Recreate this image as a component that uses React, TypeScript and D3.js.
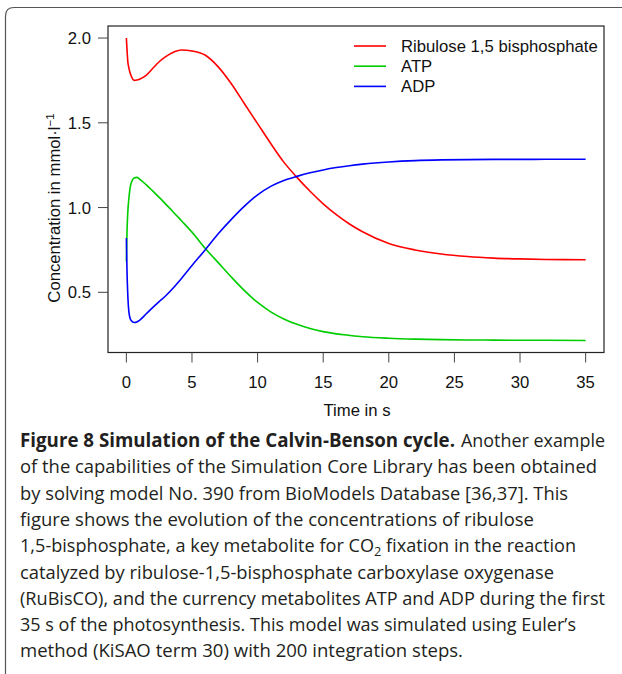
import React from "react";
import * as d3 from "d3";

// Time points (s)
const times = [0, 0.05, 0.1, 0.2, 0.35, 0.6, 0.8, 1, 1.5, 2, 2.5, 3, 3.5, 4.2, 5, 6, 7, 8, 9, 10, 11, 12, 13, 14, 15, 16, 17, 18, 20, 22, 24, 26, 28, 30, 32, 35];

// Ribulose 1,5 bisphosphate
const rubp = [2.0, 1.93, 1.87, 1.82, 1.78, 1.75, 1.752, 1.757, 1.78, 1.82, 1.86, 1.89, 1.913, 1.929, 1.924, 1.9, 1.83, 1.73, 1.612, 1.495, 1.378, 1.268, 1.178, 1.096, 1.022, 0.958, 0.903, 0.857, 0.788, 0.75, 0.726, 0.711, 0.702, 0.697, 0.694, 0.692];

// ATP
const atp = [0.682, 0.86, 0.96, 1.06, 1.14, 1.175, 1.178, 1.168, 1.135, 1.098, 1.06, 1.02, 0.98, 0.922, 0.855, 0.76, 0.675, 0.59, 0.51, 0.44, 0.385, 0.343, 0.311, 0.287, 0.268, 0.255, 0.246, 0.238, 0.229, 0.224, 0.221, 0.219, 0.218, 0.217, 0.217, 0.216];

// ADP
const adp = [0.821, 0.62, 0.5, 0.38, 0.335, 0.322, 0.325, 0.335, 0.372, 0.41, 0.445, 0.48, 0.52, 0.582, 0.658, 0.75, 0.845, 0.93, 1.008, 1.075, 1.125, 1.16, 1.184, 1.205, 1.222, 1.236, 1.247, 1.256, 1.269, 1.277, 1.281, 1.283, 1.284, 1.284, 1.285, 1.285];

const seriesNames = ["Ribulose 1,5 bisphosphate", "ATP", "ADP"];
const seriesColors = ["#ff0000", "#00cd00", "#0000ff"];
const seriesValues = [rubp, atp, adp];

const xTicks = [0, 5, 10, 15, 20, 25, 30, 35];
const yTicks = [0.5, 1.0, 1.5, 2.0];

const xLabel = "Time in s";
const yLabel = "Concentration in mmol·l";

const captionLines = [
  "of the capabilities of the Simulation Core Library has been obtained",
  "by solving model No. 390 from BioModels Database [36,37]. This",
  "figure shows the evolution of the concentrations of ribulose",
  "1,5-bisphosphate, a key metabolite for CO|2| fixation in the reaction",
  "catalyzed by ribulose-1,5-bisphosphate carboxylase oxygenase",
  "(RuBisCO), and the currency metabolites ATP and ADP during the first",
  "35 s of the photosynthesis. This model was simulated using Euler’s",
  "method (KiSAO term 30) with 200 integration steps.",
];
const captionEnds = [597, 568, 534, 576, 554, 605, 576, 463];
const captionTitle = "Figure 8 Simulation of the Calvin-Benson cycle.";
const captionTitleRest = "Another example";

export default function App() {
  const W = 622;
  const H = 674;
  const box = { left: 108, right: 604, top: 26, bottom: 352.5 };
  const x = d3.scaleLinear().domain([-1.4, 36.4]).range([box.left, box.right]);
  const y = d3.scaleLinear().domain([0.145, 2.071]).range([box.bottom, box.top]);
  const line = d3
    .line<number>()
    .x((_, i) => x(times[i]))
    .y((d) => y(d))
    .curve(d3.curveMonotoneX);

  const chartFont = "'Liberation Sans', Arial, Helvetica, sans-serif";
  const capFont = "'Open Sans', 'Noto Sans', sans-serif";
  const fs = 16.7;
  const capLeft = 20;
  const capTop = 447;
  const capStep = 26.3;

  return (
    <svg
      width={W}
      height={H}
      style={{ position: "absolute", left: 0, top: 0, background: "#fff" }}
    >
      <rect x={0} y={0} width={W} height={H} fill="#fff" />
      {/* outer frame */}
      <path
        d={`M5.5,${H + 5} L5.5,16 Q5.5,7.5 14,7.5 L${W + 5},7.5`}
        fill="none"
        stroke="#555"
        strokeWidth={1.2}
      />
      {/* plot box */}
      <rect
        x={box.left}
        y={box.top}
        width={box.right - box.left}
        height={box.bottom - box.top}
        fill="none"
        stroke="#222"
        strokeWidth={1.2}
      />
      {/* series */}
      {seriesValues.map((vals, k) => (
        <path key={k} d={line(vals) || ""} fill="none" stroke={seriesColors[k]} strokeWidth={1.6} />
      ))}
      {/* x axis */}
      {xTicks.map((t) => (
        <g key={t}>
          <line x1={x(t)} x2={x(t)} y1={box.bottom} y2={box.bottom + 10} stroke="#444" strokeWidth={1} />
          <text x={x(t)} y={388} textAnchor="middle" fontFamily={chartFont} fontSize={fs} fill="#111">
            {t}
          </text>
        </g>
      ))}
      <text x={357} y={416} textAnchor="middle" fontFamily={chartFont} fontSize={fs} fill="#111">
        {xLabel}
      </text>
      {/* y axis */}
      {yTicks.map((v) => (
        <g key={v}>
          <line x1={box.left - 10} x2={box.left} y1={y(v)} y2={y(v)} stroke="#444" strokeWidth={1} />
          <text x={91} y={y(v) + 6} textAnchor="end" fontFamily={chartFont} fontSize={fs} fill="#111">
            {v.toFixed(1)}
          </text>
        </g>
      ))}
      <text
        transform={`translate(60,208) rotate(-90)`}
        textAnchor="middle"
        fontFamily={chartFont}
        fontSize={fs}
        fill="#111"
      >
        {yLabel}
        <tspan dy={-6} fontSize={11.5}>−1</tspan>
      </text>
      {/* legend */}
      {seriesNames.map((n, k) => (
        <g key={n}>
          <line x1={354} x2={386} y1={46 + k * 20.2} y2={46 + k * 20.2} stroke={seriesColors[k]} strokeWidth={1.6} />
          <text x={401} y={46 + k * 20.2 + 6} fontFamily={chartFont} fontSize={fs} fill="#111">
            {n}
          </text>
        </g>
      ))}
      {/* caption */}
      <text
        x={capLeft}
        y={capTop}
        fontFamily={capFont}
        fontSize={19}
        fontWeight="bold"
        fill="#231f20"
        textLength={455 - capLeft}
        lengthAdjust="spacingAndGlyphs"
      >
        {captionTitle}
      </text>
      <text
        x={461}
        y={capTop}
        fontFamily={capFont}
        fontSize={19}
        fill="#231f20"
        textLength={605 - 461}
        lengthAdjust="spacingAndGlyphs"
      >
        {captionTitleRest}
      </text>
      {captionLines.map((ln, i) => {
        const parts = ln.split("|");
        return (
          <text
            key={i}
            x={capLeft}
            y={capTop + (i + 1) * capStep}
            fontFamily={capFont}
            fontSize={19}
            fill="#231f20"
            textLength={captionEnds[i] - capLeft}
            lengthAdjust="spacingAndGlyphs"
          >
            {parts.length === 1
              ? ln
              : [
                  <tspan key="a">{parts[0]}</tspan>,
                  <tspan key="b" dy={4} fontSize={13.5}>{parts[1]}</tspan>,
                  <tspan key="c" dy={-4}>{parts[2]}</tspan>,
                ]}
          </text>
        );
      })}
    </svg>
  );
}
